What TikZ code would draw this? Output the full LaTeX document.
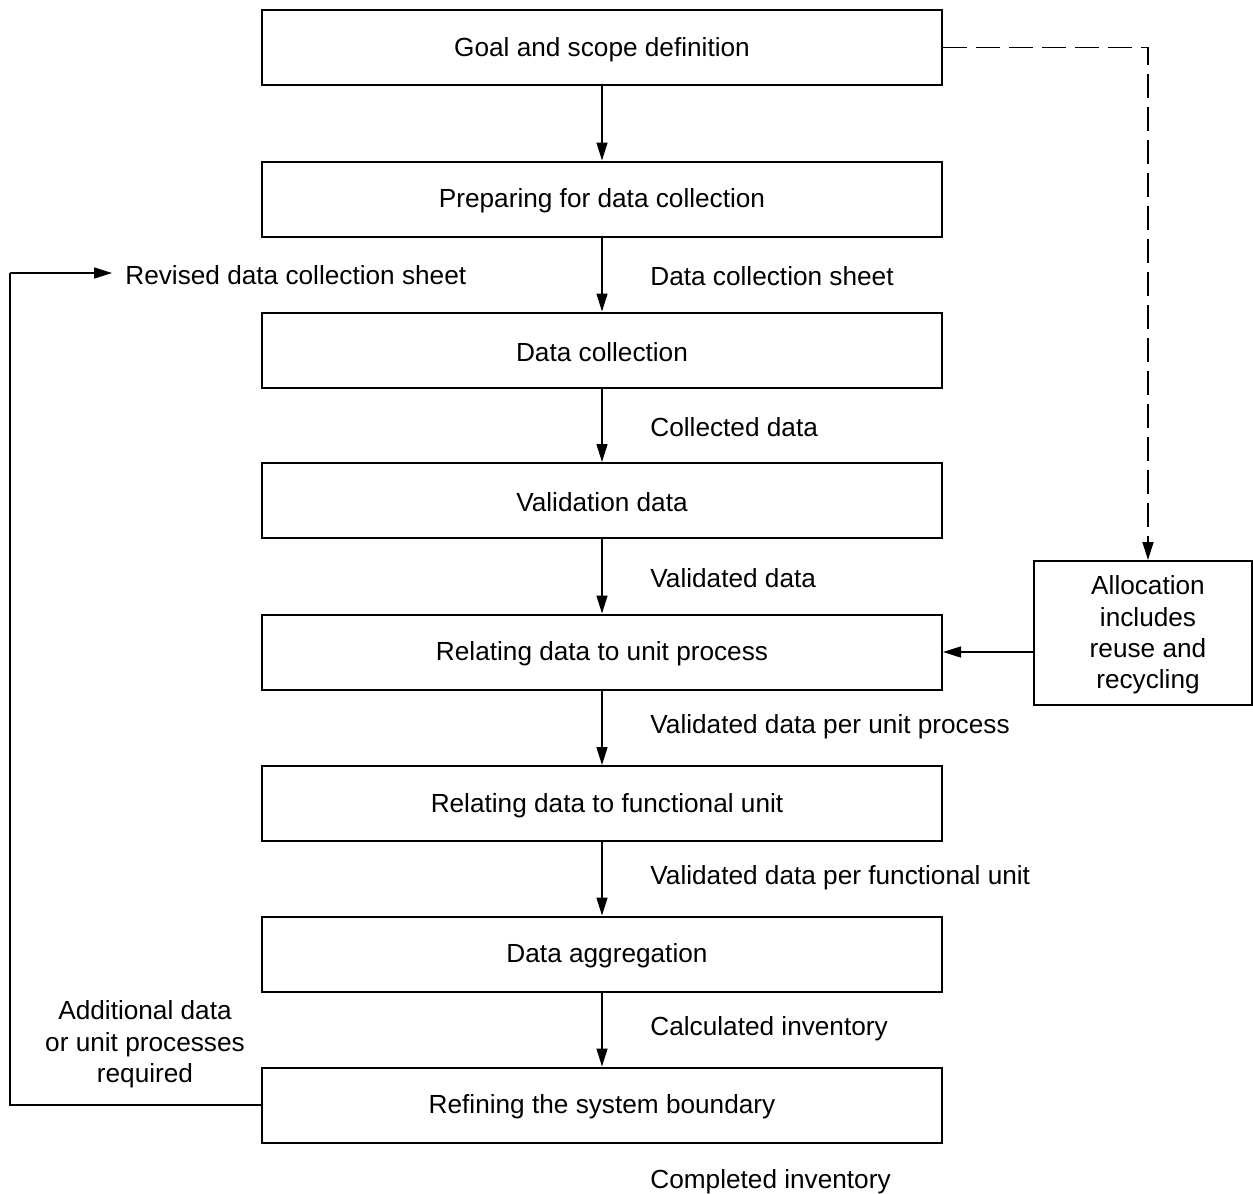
\documentclass[tikz,border=0pt]{standalone}
\usepackage{fontspec}
\setmainfont{Liberation Sans}
\usetikzlibrary{arrows.meta}
\begin{document}
\begin{tikzpicture}[x=0.5pt,y=-0.5pt,
  font=\fontsize{13.1}{15.7}\selectfont,
  stepbox/.style={draw,line width=1pt,minimum width=340pt,minimum height=37.5pt,inner sep=0pt},
  txt/.style={inner sep=0pt,yshift=-1pt},
  lbl/.style={txt,anchor=west},
  flow/.style={line width=0.75pt,-{Triangle[length=9pt,width=5.5pt]}},
  link/.style={line width=0.75pt}]
\useasboundingbox (0,0) rectangle (1253,1194);
% main process chain
\node[stepbox] (b1) at (602,47.5) {};
\node[stepbox] (b2) at (602,199) {};
\node[stepbox] (b3) at (602,350) {};
\node[stepbox] (b4) at (602,500.5) {};
\node[stepbox] (b5) at (602,652) {};
\node[stepbox] (b6) at (602,803.5) {};
\node[stepbox] (b7) at (602,954) {};
\node[stepbox] (b8) at (602,1105) {};
\node[txt] (t1) at (b1) {Goal and scope definition};
\node[txt] (t2) at (b2) {Preparing for data collection};
\node[txt] (t3) at (b3) {Data collection};
\node[txt] (t4) at (b4) {Validation data};
\node[txt] (t5) at (b5) {Relating data to unit process};
\node[txt,xshift=2.5pt] (t6) at (b6) {Relating data to functional unit};
\node[txt,xshift=2.5pt] (t7) at (b7) {Data aggregation};
\node[txt] (t8) at (b8) {Refining the system boundary};
% allocation box
\node[draw,line width=1pt,minimum width=109pt,minimum height=72pt,inner sep=0pt] (al) at (1143,633) {};
\node[txt,align=center] (alt) at (1148,633) {Allocation\\includes\\reuse and\\recycling};
% flow between steps
\foreach \a/\b in {b1/b2,b2/b3,b3/b4,b4/b5,b5/b6,b6/b7,b7/b8}
  \draw[flow] (\a.south) -- (\b.north);
% data labels
\node[lbl] (l2) at (650,274) {Data collection sheet};
\node[lbl] (l3) at (650,425) {Collected data};
\node[lbl] (l4) at (650,576) {Validated data};
\node[lbl] (l5) at (650,725) {Validated data per unit process};
\node[lbl] (l6) at (650,876) {Validated data per functional unit};
\node[lbl] (l7) at (650,1027) {Calculated inventory};
\node[lbl] (l8) at (650,1180) {Completed inventory};
% allocation feedback
\coordinate (dc) at (1148,47.5);
\draw[link,dash pattern=on 12pt off 4.5pt,-{Triangle[length=9pt,width=5.5pt]}]
  (b1.east) -- (dc) -- (dc |- al.north);
\draw[flow] (al.west |- b5) -- (b5.east);
% revision loop
\node[lbl] (rev) at (125,273) {Revised data collection sheet};
\node[txt,align=center] (add) at (145,1042.5) {Additional data\\or unit processes\\required};
\coordinate (lc) at (10,1105);
\coordinate (rt) at (112,273);
\draw[link] (b8.west) -- (lc) -- (lc |- rt);
\draw[flow] (lc |- rt) -- (rt);
\end{tikzpicture}
\end{document}
